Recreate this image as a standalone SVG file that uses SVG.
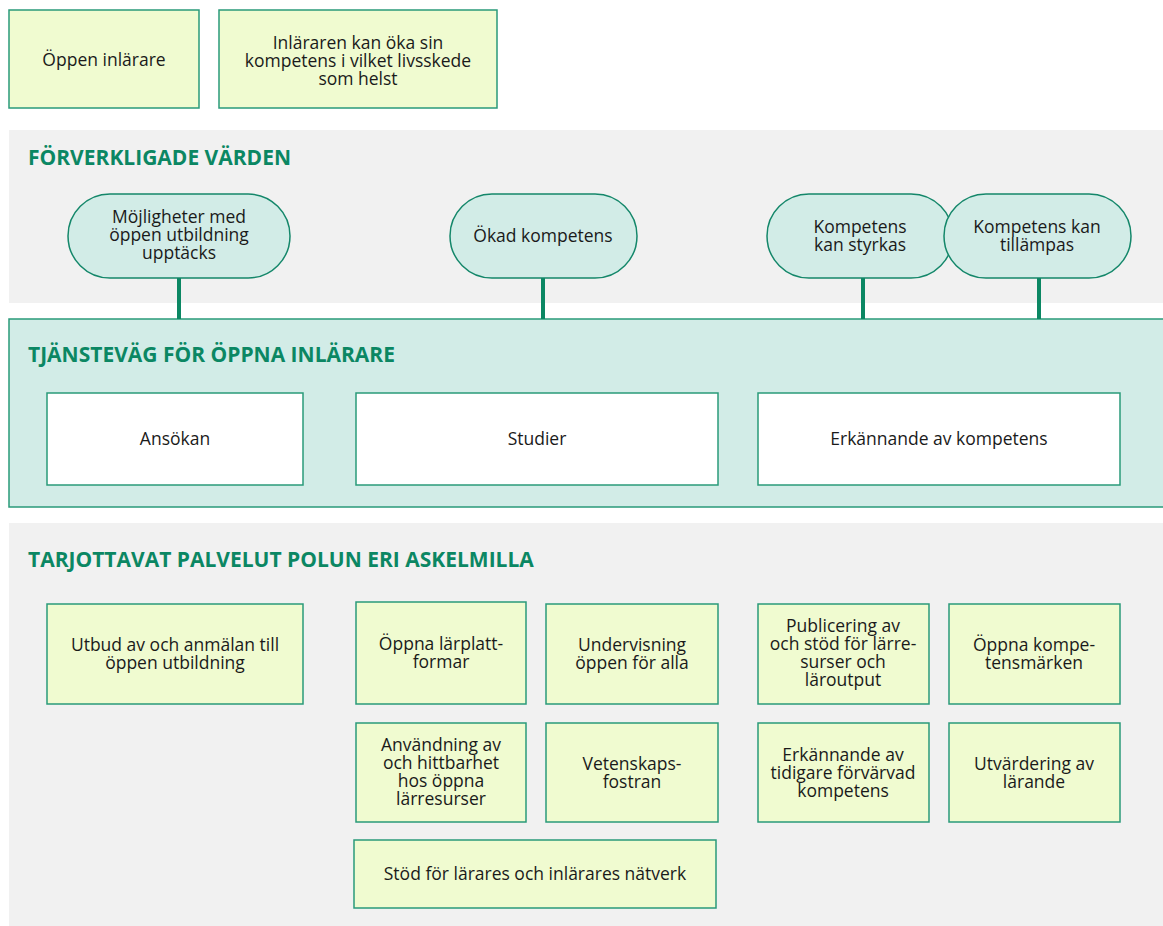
<svg xmlns="http://www.w3.org/2000/svg" width="1163" height="926" viewBox="0 0 1163 926">
<style>
text{font-family:"Open Sans","Noto Sans","Liberation Sans",sans-serif;font-size:17.5px;fill:#1a1a1a;text-anchor:middle}
.title{font-size:21px;font-weight:bold;fill:#0b8763;text-anchor:start}
.yb{fill:#f0fbd0;stroke:#2a9a7a;stroke-width:1.5}
.wb{fill:#ffffff;stroke:#2a9a7a;stroke-width:1.5}
.pill{fill:#d2ece7;stroke:#14876a;stroke-width:1.5}
.sec{fill:#f1f1f1}
.conn{stroke:#0b8763;stroke-width:4}
</style>
<rect width="1163" height="926" fill="#ffffff"/>
<g id="top-1"><rect class="yb" x="9" y="10" width="190" height="98"/><text x="104" y="66">Öppen inlärare</text></g>
<g id="top-2"><rect class="yb" x="219" y="10" width="278" height="98"/><text x="358" y="48.5">Inläraren kan öka sin</text><text x="358" y="66.5">kompetens i vilket livsskede</text><text x="358" y="84.5">som helst</text></g>

<g id="sec-values"><rect class="sec" x="9" y="130" width="1154" height="173"/><text class="title" x="28" y="165">FÖRVERKLIGADE VÄRDEN</text></g>
<g id="sec-path"><rect x="9" y="319" width="1160" height="188" fill="#d2ece7" stroke="#2a9a7a" stroke-width="1.5"/><text class="title" x="28" y="362">TJÄNSTEVÄG FÖR ÖPPNA INLÄRARE</text></g>
<g id="sec-services"><rect class="sec" x="9" y="523" width="1154" height="403"/><text class="title" x="28" y="567">TARJOTTAVAT PALVELUT POLUN ERI ASKELMILLA</text></g>

<g id="connectors">
<line class="conn" x1="179" y1="278" x2="179" y2="319"/>
<line class="conn" x1="543" y1="278" x2="543" y2="319"/>
<line class="conn" x1="863" y1="278" x2="863" y2="319"/>
<line class="conn" x1="1039" y1="278" x2="1039" y2="319"/>
</g>

<g id="v1"><rect class="pill" x="68" y="194" width="222" height="84" rx="42"/><text x="179" y="223">Möjligheter med</text><text x="179" y="241">öppen utbildning</text><text x="179" y="259">upptäcks</text></g>
<g id="v2"><rect class="pill" x="450" y="194" width="187" height="84" rx="42"/><text x="543" y="242">Ökad kompetens</text></g>
<g id="v3"><rect class="pill" x="767" y="194" width="186" height="84" rx="42"/><text x="860" y="233">Kompetens</text><text x="860" y="251">kan styrkas</text></g>
<g id="v4"><rect class="pill" x="944" y="194" width="187" height="84" rx="42"/><text x="1037" y="233">Kompetens kan</text><text x="1037" y="251">tillämpas</text></g>

<g id="p1"><rect class="wb" x="47" y="393" width="256" height="92"/><text x="175" y="445">Ansökan</text></g>
<g id="p2"><rect class="wb" x="356" y="393" width="362" height="92"/><text x="537" y="445">Studier</text></g>
<g id="p3"><rect class="wb" x="758" y="393" width="362" height="92"/><text x="939" y="445">Erkännande av kompetens</text></g>

<g id="s1"><rect class="yb" x="47" y="604" width="256" height="100"/><text x="175" y="651">Utbud av och anmälan till</text><text x="175" y="669">öppen utbildning</text></g>
<g id="s2"><rect class="yb" x="356" y="602" width="170" height="102"/><text x="441" y="650">Öppna lärplatt-</text><text x="441" y="668">formar</text></g>
<g id="s3"><rect class="yb" x="546" y="604" width="172" height="100"/><text x="632" y="651">Undervisning</text><text x="632" y="669">öppen för alla</text></g>
<g id="s4"><rect class="yb" x="356" y="723" width="170" height="99"/><text x="441" y="751">Användning av</text><text x="441" y="769">och hittbarhet</text><text x="441" y="787">hos öppna</text><text x="441" y="805">lärresurser</text></g>
<g id="s5"><rect class="yb" x="546" y="723" width="172" height="99"/><text x="632" y="770">Vetenskaps-</text><text x="632" y="788">fostran</text></g>
<g id="s6"><rect class="yb" x="354" y="840" width="362" height="68"/><text x="535" y="880">Stöd för lärares och inlärares nätverk</text></g>
<g id="s7"><rect class="yb" x="758" y="604" width="171" height="100"/><text x="843" y="632">Publicering av</text><text x="843" y="650">och stöd för lärre-</text><text x="843" y="668">surser och</text><text x="843" y="686">läroutput</text></g>
<g id="s8"><rect class="yb" x="949" y="604" width="171" height="100"/><text x="1034" y="651">Öppna kompe-</text><text x="1034" y="669">tensmärken</text></g>
<g id="s9"><rect class="yb" x="758" y="723" width="171" height="99"/><text x="843" y="761">Erkännande av</text><text x="843" y="779">tidigare förvärvad</text><text x="843" y="797">kompetens</text></g>
<g id="s10"><rect class="yb" x="949" y="723" width="171" height="99"/><text x="1034" y="770">Utvärdering av</text><text x="1034" y="788">lärande</text></g>
</svg>
